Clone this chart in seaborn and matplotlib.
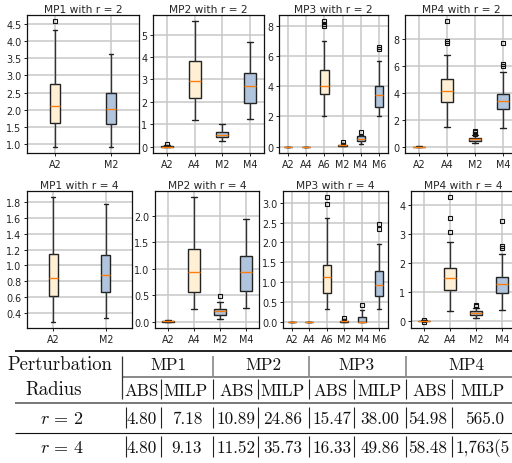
import matplotlib
matplotlib.use("Agg")
import matplotlib.pyplot as plt
from matplotlib.lines import Line2D
from matplotlib.ticker import MultipleLocator
import seaborn as sns

# ---------------- data ----------------
mp1_r2_labels = ["A2", "M2"]
mp1_r2_lo = [0.93, 0.93]
mp1_r2_q1 = [1.63, 1.59]
mp1_r2_med = [2.11, 2.03]
mp1_r2_q3 = [2.76, 2.48]
mp1_r2_hi = [4.31, 3.63]
mp1_r2_fliers = [[4.57], []]

mp2_r2_labels = ["A2", "A4", "M2", "M4"]
mp2_r2_lo = [0.0, 1.21, 0.25, 1.25]
mp2_r2_q1 = [0.0, 2.18, 0.43, 1.93]
mp2_r2_med = [0.01, 2.95, 0.54, 2.69]
mp2_r2_q3 = [0.03, 3.84, 0.65, 3.27]
mp2_r2_hi = [0.07, 5.59, 1.03, 4.65]
mp2_r2_fliers = [[0.14], [], [], []]

mp3_r2_labels = ["A2", "A4", "A6", "M2", "M4", "M6"]
mp3_r2_lo = [0.0, 0.0, 2.05, 0.02, 0.17, 2.06]
mp3_r2_q1 = [0.0, 0.0, 3.48, 0.05, 0.35, 2.65]
mp3_r2_med = [0.0, 0.0, 4.03, 0.09, 0.52, 3.41]
mp3_r2_q3 = [0.0, 0.0, 5.05, 0.14, 0.68, 4.00]
mp3_r2_hi = [0.0, 0.0, 7.00, 0.22, 0.80, 5.70]
mp3_r2_fliers = [[], [], [8.0, 8.15, 8.3], [0.28], [1.0], [6.45, 6.6]]

mp4_r2_labels = ["A2", "A4", "M2", "M4"]
mp4_r2_lo = [0.0, 1.50, 0.25, 1.40]
mp4_r2_q1 = [0.0, 3.32, 0.42, 2.81]
mp4_r2_med = [0.0, 4.11, 0.54, 3.42]
mp4_r2_q3 = [0.0, 5.02, 0.66, 3.94]
mp4_r2_hi = [0.02, 6.82, 0.90, 5.59]
mp4_r2_fliers = [[], [7.75, 7.85, 9.33], [0.98, 1.08, 1.16], [6.0, 6.15, 7.73]]

mp1_r4_labels = ["A2", "M2"]
mp1_r4_lo = [0.29, 0.34]
mp1_r4_q1 = [0.62, 0.66]
mp1_r4_med = [0.84, 0.88]
mp1_r4_q3 = [1.144, 1.13]
mp1_r4_hi = [1.86, 1.77]
mp1_r4_fliers = [[], []]

mp2_r4_labels = ["A2", "A4", "M2", "M4"]
mp2_r4_lo = [0.0, 0.24, 0.05, 0.26]
mp2_r4_q1 = [0.0, 0.57, 0.12, 0.59]
mp2_r4_med = [0.01, 0.93, 0.20, 0.93]
mp2_r4_q3 = [0.02, 1.37, 0.24, 1.24]
mp2_r4_hi = [0.04, 2.35, 0.38, 1.94]
mp2_r4_fliers = [[], [], [0.49], []]

mp3_r4_labels = ["A2", "A4", "A6", "M2", "M4", "M6"]
mp3_r4_lo = [0.0, 0.0, 0.33, 0.0, 0.0, 0.33]
mp3_r4_q1 = [0.0, 0.0, 0.73, 0.0, 0.0, 0.65]
mp3_r4_med = [0.0, 0.0, 1.12, 0.01, 0.0, 0.93]
mp3_r4_q3 = [0.0, 0.0, 1.44, 0.03, 0.12, 1.29]
mp3_r4_hi = [0.0, 0.0, 2.62, 0.07, 0.29, 1.96]
mp3_r4_fliers = [[], [], [2.96, 3.14], [0.10], [0.43], [2.33, 2.47]]

mp4_r4_labels = ["A2", "A4", "M2", "M4"]
mp4_r4_lo = [-0.02, 0.34, 0.11, 0.37]
mp4_r4_q1 = [-0.01, 1.07, 0.20, 0.96]
mp4_r4_med = [0.0, 1.47, 0.26, 1.27]
mp4_r4_q3 = [0.01, 1.81, 0.34, 1.51]
mp4_r4_hi = [0.02, 2.74, 0.45, 2.30]
mp4_r4_fliers = [[-0.03, 0.03], [3.08, 3.54, 4.27], [0.52, 0.56], [2.52, 2.57, 3.46]]

titles = ["MP1 with r = 2", "MP2 with r = 2", "MP3 with r = 2", "MP4 with r = 2",
          "MP1 with r = 4", "MP2 with r = 4", "MP3 with r = 4", "MP4 with r = 4"]

# table texts
tbl_groups = ["MP1", "MP2", "MP3", "MP4"]
tbl_sub = ["ABS", "MILP", "ABS", "MILP", "ABS", "MILP", "ABS", "MILP"]
tbl_rows = [r"$r\,=\,2$", r"$r\,=\,4$"]
tbl_r2 = ["4.80", "7.18", "10.89", "24.86", "15.47", "38.00", "54.98", "565.0"]
tbl_r4 = ["4.80", "9.13", "11.52", "35.73", "16.33", "49.86", "58.48", "1,763(5"]

# ---------------- style ----------------
sns.set_style("ticks")
plt.rcParams["font.family"] = ["DejaVu Sans"]
plt.rcParams["mathtext.fontset"] = "cm"

W, H = 512, 464
fig = plt.figure(figsize=(W / 100, H / 100), dpi=100)

def rect(x0, x1, ytop, ybot):
    return [x0 / W, 1 - ybot / H, (x1 - x0) / W, (ybot - ytop) / H]

panels = [
    (mp1_r2_labels, mp1_r2_lo, mp1_r2_q1, mp1_r2_med, mp1_r2_q3, mp1_r2_hi, mp1_r2_fliers, rect(27, 139, 16, 154), 0.17, 0.5),
    (mp2_r2_labels, mp2_r2_lo, mp2_r2_q1, mp2_r2_med, mp2_r2_q3, mp2_r2_hi, mp2_r2_fliers, rect(153, 264, 16, 154), 0.44, 1.0),
    (mp3_r2_labels, mp3_r2_lo, mp3_r2_q1, mp3_r2_med, mp3_r2_q3, mp3_r2_hi, mp3_r2_fliers, rect(279, 388, 16, 154), 0.45, 2.0),
    (mp4_r2_labels, mp4_r2_lo, mp4_r2_q1, mp4_r2_med, mp4_r2_q3, mp4_r2_hi, mp4_r2_fliers, rect(405, 517, 16, 154), 0.44, 2.0),
    (mp1_r4_labels, mp1_r4_lo, mp1_r4_q1, mp1_r4_med, mp1_r4_q3, mp1_r4_hi, mp1_r4_fliers, rect(27, 132, 192, 329), 0.17, 0.2),
    (mp2_r4_labels, mp2_r4_lo, mp2_r4_q1, mp2_r4_med, mp2_r4_q3, mp2_r4_hi, mp2_r4_fliers, rect(155, 259, 192, 329), 0.44, 0.5),
    (mp3_r4_labels, mp3_r4_lo, mp3_r4_q1, mp3_r4_med, mp3_r4_q3, mp3_r4_hi, mp3_r4_fliers, rect(283, 388, 192, 329), 0.45, 0.5),
    (mp4_r4_labels, mp4_r4_lo, mp4_r4_q1, mp4_r4_med, mp4_r4_q3, mp4_r4_hi, mp4_r4_fliers, rect(411, 515, 192, 329), 0.44, 1.0),
]

A_COLOR = "#ffefd5"
M_COLOR = "#b0c4de"

for title, (labels, lo, q1, med, q3, hi, fl, r, bw, step) in zip(titles, panels):
    ax = fig.add_axes(r)
    stats = []
    for i, lab in enumerate(labels):
        stats.append(dict(label=lab, whislo=lo[i], q1=q1[i], med=med[i], q3=q3[i],
                          whishi=hi[i], fliers=fl[i]))
    bp = ax.bxp(stats, positions=list(range(1, len(labels) + 1)), widths=bw,
                patch_artist=True, showfliers=True,
                boxprops=dict(edgecolor="#222222", linewidth=1.0),
                whiskerprops=dict(color="#333333", linewidth=1.0),
                capprops=dict(color="#222222", linewidth=1.0),
                medianprops=dict(color="#ff7f0e", linewidth=1.0),
                flierprops=dict(marker="s", markersize=2.3, markerfacecolor="none",
                                markeredgecolor="#111111", markeredgewidth=0.8))
    for patch, lab in zip(bp["boxes"], labels):
        patch.set_facecolor(A_COLOR if lab.startswith("A") else M_COLOR)
    ax.set_xlim(0.5, len(labels) + 0.5)
    ax.yaxis.set_major_locator(MultipleLocator(step))
    ax.grid(True, color="#c8c8c8", linewidth=1.1)
    ax.set_axisbelow(True)
    for s in ax.spines.values():
        s.set_color("#111111")
        s.set_linewidth(0.9)
    ax.tick_params(labelsize=6.9, length=2.5, width=0.7, pad=1.5, colors="#222222")
    ax.set_title(title, fontsize=7.7, pad=2.0)

# ---------------- table ----------------
def fx(x):
    return x / W

def fy(y):
    return 1 - y / H

def hline(y, x0, x1, color, lw):
    fig.add_artist(Line2D([fx(x0), fx(x1)], [fy(y), fy(y)], transform=fig.transFigure,
                          color=color, linewidth=lw, solid_capstyle="butt"))

def vline(x, y0, y1, color, lw):
    fig.add_artist(Line2D([fx(x), fx(x)], [fy(y0), fy(y1)], transform=fig.transFigure,
                          color=color, linewidth=lw, solid_capstyle="butt"))

TFS = 12.3
tk = dict(fontfamily="cmr10", fontsize=TFS, ha="center", va="center", color="#111111")

hline(351.7, 15, 512, "#111111", 1.3)
hline(378, 122, 512, "#888888", 1.4)
hline(404, 15, 512, "#777777", 1.4)
hline(434, 15, 512, "#111111", 0.8)

fig.text(fx(60), fy(365), "Perturbation", **{**tk, "fontsize": 13.5})
fig.text(fx(54), fy(390), "Radius", **{**tk, "fontsize": 13.5})
for gx, g in zip([168, 263, 356, 466], tbl_groups):
    fig.text(fx(gx), fy(365), g, **tk)
for sx, s in zip([142, 186, 237, 283, 331, 380, 430, 483], tbl_sub):
    fig.text(fx(sx), fy(391), s, **tk)

vline(122, 357, 400, "#333333", 0.9)
for x in [213, 309, 406]:
    vline(x, 357, 378, "#888888", 1.2)
for x in [161, 213, 258, 309, 354, 406, 452]:
    vline(x, 380, 400, "#222222", 0.8)

num_x = [142, 187, 236, 283, 332, 380, 428, 485]
for ry, lab, vals in [(419, tbl_rows[0], tbl_r2), (448, tbl_rows[1], tbl_r4)]:
    fig.text(fx(62), fy(ry), lab, fontsize=13, ha="center", va="center", color="#111111")
    for i, (nx, v) in enumerate(zip(num_x, vals)):
        if v.startswith("1,763"):
            fig.text(fx(455), fy(ry), v, fontfamily="cmr10", fontsize=TFS,
                     ha="left", va="center", color="#111111")
        else:
            fig.text(fx(nx), fy(ry), v, **tk)
    for x in [126, 161, 213, 258, 309, 354, 406, 452]:
        vline(x, ry - 11, ry + 10, "#222222", 0.8)

fig.savefig("out.png", dpi=100)
